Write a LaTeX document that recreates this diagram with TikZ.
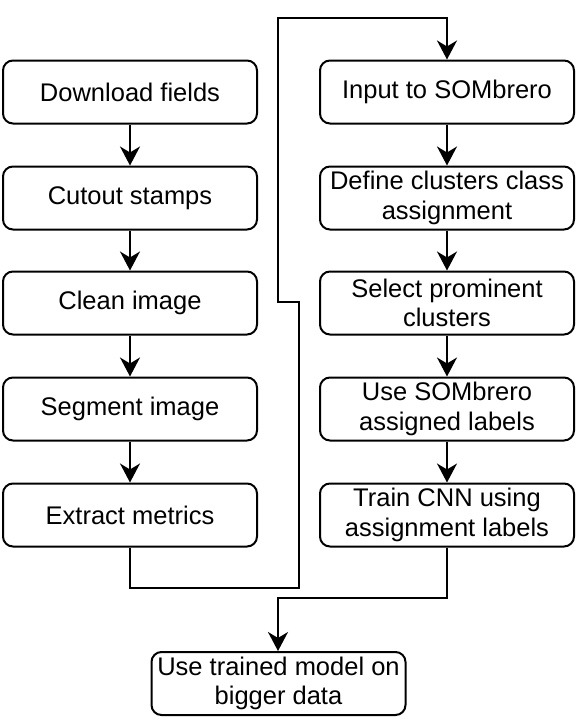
\documentclass[tikz,border=0pt]{standalone}
\usepackage{fontspec}
\setmainfont{Liberation Sans}
\usetikzlibrary{arrows.meta}
\begin{document}
\begin{tikzpicture}[x=1pt,y=-1pt,
  box/.style={draw, line width=2pt, rounded corners=10pt, minimum width=254pt, minimum height=63pt,
    inner sep=0pt, align=center, font=\fontsize{25.5}{29.5}\selectfont},
  conn/.style={line width=2pt, -{Stealth[length=19pt,width=20pt,inset=6pt]}},
  line/.style={line width=2pt}]
\useasboundingbox (0,0) rectangle (577,723);
\node[box] (l1) at (130,92) {Download fields};
\node[box] (l2) at (130,198) {Cutout stamps};
\node[box] (l3) at (130,303) {Clean image};
\node[box] (l4) at (130,409) {Segment image};
\node[box] (l5) at (130,515) {Extract metrics};
\node[box] (r1) at (447,92) {Input to SOMbrero};
\node[box] (r2) at (447,198) {Define clusters class\\assignment};
\node[box] (r3) at (447,303) {Select prominent\\clusters};
\node[box] (r4) at (447,409) {Use SOMbrero\\assigned labels};
\node[box] (r5) at (447,515) {Train CNN using\\assignment labels};
\node[box] (b) at (278.5,683.5) {Use trained model on\\bigger data};
\foreach \a/\b in {l1/l2,l2/l3,l3/l4,l4/l5,r1/r2,r2/r3,r3/r4,r4/r5}
  \draw[conn] (\a) -- (\b);
\draw[conn] (l5.south) |- (299,588) |- (278,302) |- (447,18) -- (r1.north);
\draw[conn] (r5.south) |- (278,598) -- (b.north -| 278,598);
\end{tikzpicture}
\end{document}
